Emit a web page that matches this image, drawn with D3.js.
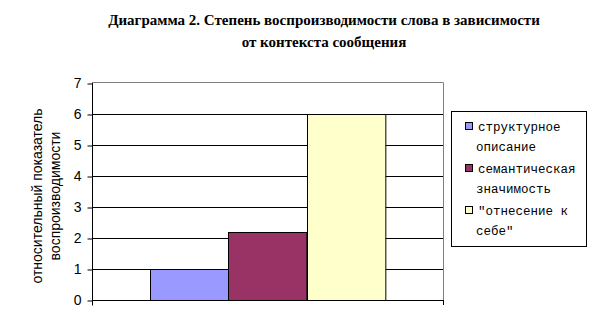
<!DOCTYPE html>
<meta charset="utf-8">
<style>
  body { margin: 0; background: #fff; }
</style>
<svg width="595" height="332"></svg>
<script src="https://d3js.org/d3.v7.min.js"></script>
<script>

var titleLines = ["Диаграмма 2. Степень воспроизводимости слова в зависимости",
                  "от контекста сообщения"];
var yTitleLines = ["относительный показатель", "воспроизводимости"];
var series = ["структурное описание", "семантическая значимость", "\"отнесение к себе\""];
var values = [1, 2.2, 6];
var colors = ["#9999ff", "#993366", "#ffffcc"];
var legendLines = [["структурное", "описание"], ["семантическая", "значимость"], ["\"отнесение к", "себе\""]];
var yTicks = [0, 1, 2, 3, 4, 5, 6, 7];

var svg = d3.select("svg");

var plotLeft = 92, plotRight = 443, plotTop = 83, plotBottom = 300;

var y = d3.scaleLinear().domain([0, 7]).range([plotBottom, plotTop]);
var x = d3.scaleBand().domain(series).range([150, 385]).padding(0);

// title
svg.append("g")
    .attr("font-family", "'Liberation Serif', serif")
    .attr("font-weight", "bold")
    .attr("font-size", 15)
  .selectAll("text")
  .data(titleLines)
  .enter().append("text")
    .attr("x", 324)
    .attr("y", function(d, i) { return 25 + i * 22; })
    .attr("text-anchor", "middle")
    .text(function(d) { return d; });

// grid
svg.append("g")
    .attr("stroke", "#000")
    .attr("stroke-width", 1)
  .selectAll("line")
  .data(yTicks.filter(function(d) { return d > 0 && d < 7; }))
  .enter().append("line")
    .attr("x1", plotLeft).attr("x2", plotRight)
    .attr("y1", function(d) { return Math.round(y(d)) + 0.5; })
    .attr("y2", function(d) { return Math.round(y(d)) + 0.5; });

// plot border (top and right)
svg.append("path")
    .attr("fill", "none")
    .attr("stroke", "#808080")
    .attr("d", "M" + plotLeft + "," + (plotTop - 0.5) + "H" + (plotRight + 0.5) + "V" + plotBottom);

// bars
svg.append("g")
    .attr("stroke", "#000")
    .attr("stroke-width", 1)
  .selectAll("rect")
  .data(values)
  .enter().append("rect")
    .attr("x", function(d, i) { return Math.round(x(series[i])) + 0.5; })
    .attr("y", function(d) { return Math.round(y(d)) + 0.5; })
    .attr("width", x.bandwidth())
    .attr("height", function(d) { return Math.round(y(0)) - Math.round(y(d)); })
    .attr("fill", function(d, i) { return colors[i]; });

// y axis
var yAxis = svg.append("g")
    .attr("transform", "translate(" + (plotLeft + 0.5) + ",0.5)")
    .call(d3.axisLeft(y).tickValues(yTicks).tickSize(5).tickPadding(6).tickFormat(d3.format("d")));
yAxis.select(".domain").remove();
yAxis.selectAll(".tick line").attr("stroke", "#000");
yAxis.append("line").attr("stroke", "#000").attr("y1", plotTop - 0.5).attr("y2", plotBottom + 5);
yAxis.selectAll("text")
    .attr("font-family", "'Liberation Sans', Arial, sans-serif")
    .attr("font-size", 14)
    .attr("fill", "#000");

// x axis
var xa = svg.append("g").attr("stroke", "#000");
xa.append("line").attr("x1", plotLeft).attr("x2", plotRight + 1).attr("y1", plotBottom + 0.5).attr("y2", plotBottom + 0.5);
xa.append("line").attr("x1", plotRight + 0.5).attr("x2", plotRight + 0.5).attr("y1", plotBottom).attr("y2", plotBottom + 5);

// y title
svg.append("g")
    .attr("font-family", "'Liberation Sans', Arial, sans-serif")
    .attr("font-size", 14)
    .attr("text-anchor", "middle")
  .selectAll("text")
  .data(yTitleLines)
  .enter().append("text")
    .attr("transform", function(d, i) { return "translate(" + (42 + i * 18) + ",196) rotate(-90)"; })
    .text(function(d) { return d; });

// legend
var lg = svg.append("g");
lg.append("rect")
    .attr("x", 451.5).attr("y", 111.5)
    .attr("width", 135).attr("height", 135)
    .attr("fill", "#fff").attr("stroke", "#000");

var item = lg.selectAll("g.item")
  .data(series)
  .enter().append("g")
    .attr("class", "item")
    .attr("transform", function(d, i) { return "translate(0," + (i * 42) + ")"; });

item.append("rect")
    .attr("x", 465.5).attr("y", 122.5)
    .attr("width", 7).attr("height", 7)
    .attr("fill", function(d, i) { return colors[i]; })
    .attr("stroke", "#000");

item.selectAll("text")
  .data(function(d, i) { return legendLines[i]; })
  .enter().append("text")
    .attr("x", function(d, j) { return j === 0 ? 478 : 476; })
    .attr("y", function(d, j) { return 131 + j * 20; })
    .attr("font-family", "'Liberation Mono', 'Courier New', monospace")
    .attr("font-size", 12.5)
    .text(function(d) { return d; });

</script>
